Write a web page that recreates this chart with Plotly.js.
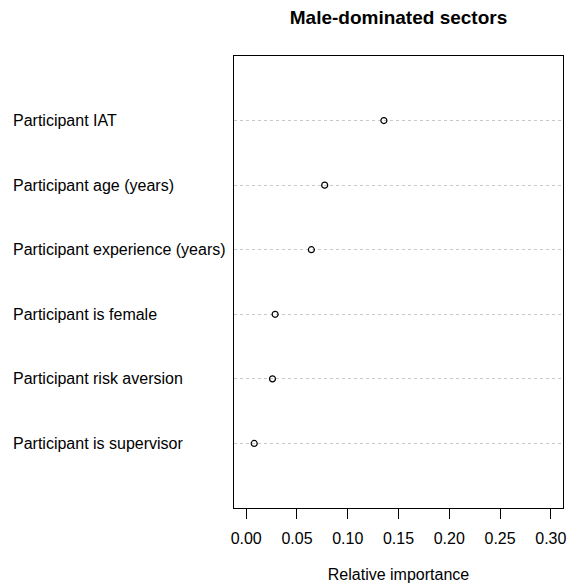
<!DOCTYPE html>
<html>
<head>
<meta charset="utf-8">
<script src="https://cdn.plot.ly/plotly-3.0.1.min.js"></script>
<style>html,body{margin:0;padding:0;background:#fff;}#chart{width:568px;height:583px;}</style>
</head>
<body>
<div id="chart"></div>
<script>
// Data (top to bottom as shown)
const categories = [
  "Participant IAT",
  "Participant age (years)",
  "Participant experience (years)",
  "Participant is female",
  "Participant risk aversion",
  "Participant is supervisor"
];
const importance = [0.1356, 0.0773, 0.0642, 0.0285, 0.0259, 0.0079];
const xTickVals = [0, 0.05, 0.10, 0.15, 0.20, 0.25, 0.30];
const xTickText = ["0.00", "0.05", "0.10", "0.15", "0.20", "0.25", "0.30"];

const n = categories.length;
const rowPos = categories.map((c, i) => n - i);

const font = "Liberation Sans, Arial, sans-serif";

const trace = {
  type: "scatter",
  mode: "markers",
  x: importance,
  y: rowPos,
  text: categories,
  marker: {symbol: "circle-open", size: 6, color: "#000", line: {width: 1.2, color: "#000"}},
  hoverinfo: "text+x",
  showlegend: false
};

const annotations = categories.map((c, i) => ({
  xref: "paper", yref: "y",
  x: -0.678, y: rowPos[i],
  xanchor: "left", yanchor: "middle",
  text: c, showarrow: false,
  font: {family: font, size: 16, color: "#000"}
}));

const layout = {
  width: 568, height: 583,
  margin: {l: 233.5, r: 5, t: 55.5, b: 75, pad: 0},
  paper_bgcolor: "#fff", plot_bgcolor: "#fff",
  title: {
    text: "<b>Male-dominated sectors</b>",
    font: {family: font, size: 19, color: "#000"},
    xref: "paper", x: 0.5, xanchor: "center",
    yref: "container", y: 1 - 17 / 583, yanchor: "middle"
  },
  xaxis: {
    range: [-0.012, 0.312],
    tickvals: xTickVals, ticktext: xTickText,
    ticks: "outside", ticklen: 10, tickwidth: 1, tickcolor: "#000",
    ticklabelstandoff: 6,
    showgrid: false, zeroline: false,
    showline: true, linecolor: "#000", linewidth: 1, mirror: true,
    tickfont: {family: font, size: 16, color: "#000"},
    title: {text: "Relative importance", font: {family: font, size: 16, color: "#000"}, standoff: 22}
  },
  yaxis: {
    range: [0, n + 1],
    tickvals: rowPos, showticklabels: false, ticks: "",
    showgrid: true, gridcolor: "#c8c8c8", gridwidth: 1, griddash: "dot",
    zeroline: false,
    showline: true, linecolor: "#000", linewidth: 1, mirror: true
  },
  annotations: annotations
};

Plotly.newPlot("chart", [trace], layout, {displayModeBar: false, staticPlot: true});
</script>
</body>
</html>
